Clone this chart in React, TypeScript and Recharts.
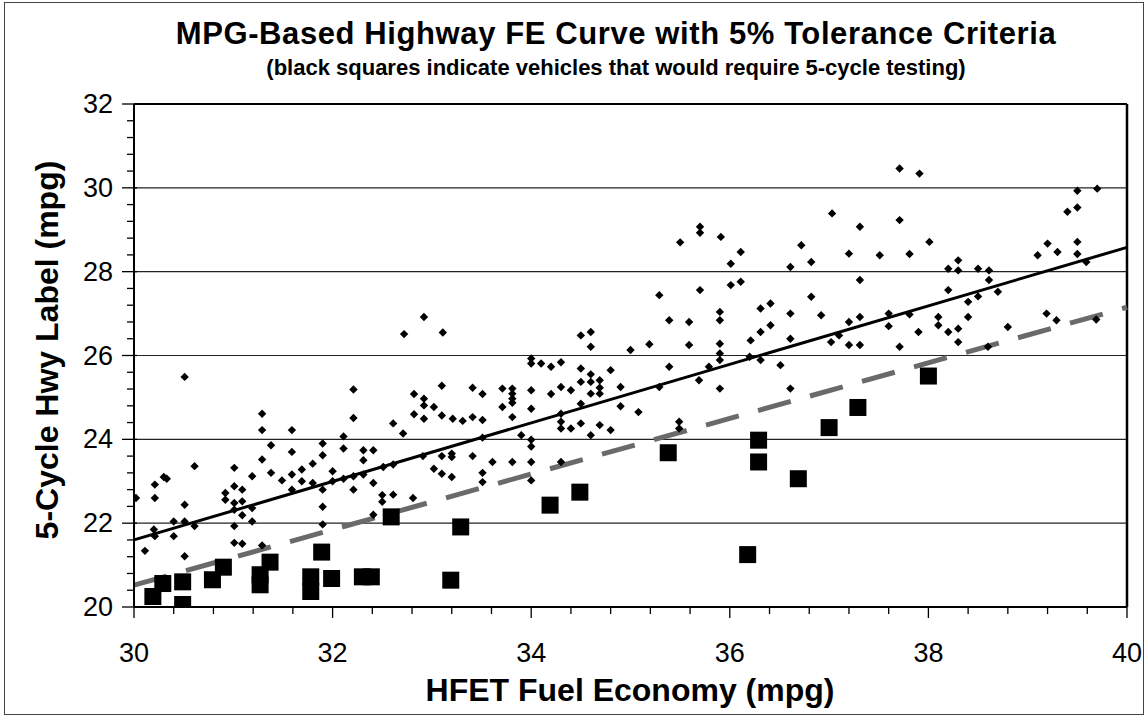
import React from 'react'
import { ReferenceLine, Scatter, ScatterChart, XAxis, YAxis } from 'recharts'

// vehicles within tolerance: [HFET mpg, 5-cycle hwy label mpg]
const passPoints: [number, number][] = [
  [30.02, 22.6], [30.11, 21.34], [30.21, 22.92], [30.21, 22.6], [30.2, 21.85], [30.21, 21.69],
  [30.3, 23.1], [30.33, 23.06], [30.4, 22.04], [30.4, 21.69], [30.51, 25.49], [30.51, 22.44],
  [30.51, 22.04], [30.51, 21.21], [30.61, 21.93], [30.61, 23.36], [30.92, 22.72], [30.92, 22.56],
  [31.01, 23.32], [31.01, 22.88], [31.01, 22.48], [31.01, 22.32], [31.01, 21.93], [31.01, 21.53],
  [31.09, 22.8], [31.09, 22.52], [31.09, 22.19], [31.09, 21.51], [31.19, 23.12], [31.19, 22.36],
  [31.19, 22.04], [31.29, 24.61], [31.29, 24.22], [31.29, 23.52], [31.29, 21.47], [31.38, 23.86],
  [31.38, 23.2], [31.49, 23.02], [31.59, 24.22], [31.59, 23.7], [31.59, 23.16], [31.59, 22.8],
  [31.69, 23.28], [31.69, 23.0], [31.8, 23.42], [31.8, 22.96], [31.9, 23.9], [31.9, 23.62],
  [31.9, 22.8], [31.9, 22.39], [31.9, 21.97], [32.0, 23.24], [32.0, 23.0], [32.11, 24.07],
  [32.11, 23.78], [32.11, 23.06], [32.21, 25.19], [32.21, 24.51], [32.21, 23.12], [32.21, 22.8],
  [32.31, 23.74], [32.31, 23.5], [32.31, 23.16], [32.41, 23.74], [32.41, 22.96], [32.41, 22.2],
  [32.5, 22.67], [32.5, 22.51], [32.51, 23.34],
  [32.61, 23.4], [32.61, 24.38], [32.71, 24.14], [32.72, 26.51], [32.92, 26.92], [33.11, 26.55],
  [32.82, 25.08], [32.82, 24.6], [32.92, 24.97], [32.92, 24.81], [32.92, 24.49], [33.02, 24.77],
  [33.1, 25.28], [33.1, 24.57], [33.21, 24.49], [33.31, 24.44], [33.41, 25.23], [33.41, 24.53],
  [33.51, 25.08], [33.51, 24.46], [32.91, 23.6], [33.02, 23.3], [33.1, 23.6], [33.1, 23.18],
  [33.2, 23.66], [33.2, 23.58], [33.2, 23.1], [33.41, 23.6], [33.51, 23.2], [33.51, 22.98],
  [33.51, 24.04], [33.61, 23.46], [33.71, 25.21], [33.71, 24.77], [33.81, 25.21], [33.81, 25.09],
  [33.81, 24.97], [33.81, 24.87], [33.81, 24.53], [33.81, 23.46], [33.9, 24.1], [34.0, 25.93],
  [34.0, 25.81], [34.1, 25.81], [34.2, 25.73], [34.3, 25.84], [34.0, 25.17], [34.0, 24.73],
  [34.0, 23.99], [34.0, 23.83], [34.0, 23.46], [34.0, 23.02], [34.2, 25.08], [34.3, 25.25],
  [34.3, 24.61], [34.3, 24.42], [34.3, 24.26], [34.3, 23.46], [34.4, 25.17], [34.4, 24.26],
  [34.5, 25.69], [34.5, 25.37], [34.5, 24.85], [34.5, 24.38], [34.5, 26.48], [34.6, 26.56],
  [34.6, 26.21], [34.6, 25.55], [34.6, 25.37], [34.6, 25.09], [34.6, 24.1], [34.69, 25.41],
  [34.69, 25.23], [34.69, 25.09], [34.8, 25.65], [34.8, 24.22], [34.69, 24.34], [34.9, 25.25],
  [34.9, 24.79], [35.0, 26.13], [35.08, 24.65], [32.61, 22.68], [32.81, 22.6],
  [35.19, 26.27], [35.29, 27.44], [35.29, 25.25], [35.39, 26.84], [35.39, 25.73], [35.5, 28.7],
  [35.49, 24.42], [35.49, 24.26], [35.59, 26.8], [35.59, 26.25], [35.69, 25.41], [35.7, 29.07],
  [35.7, 28.93], [35.7, 27.56], [35.79, 25.73], [35.91, 28.83], [35.9, 27.04], [35.9, 26.84],
  [35.9, 26.28], [35.9, 26.05], [35.9, 25.89], [35.9, 25.21], [36.01, 28.19], [36.01, 27.68],
  [36.11, 28.47], [36.11, 27.76], [36.21, 26.36], [36.2, 25.97], [36.31, 27.12], [36.31, 26.56],
  [36.31, 25.89], [36.41, 27.24], [36.41, 26.72], [36.51, 25.77], [36.61, 28.11], [36.61, 27.0],
  [36.61, 26.4], [36.61, 25.21], [36.72, 28.63], [36.82, 28.23], [36.82, 27.4], [36.92, 26.96],
  [37.02, 26.32], [37.1, 26.48], [37.2, 26.8], [37.2, 26.25], [37.2, 28.43], [37.31, 29.07],
  [37.31, 27.8], [37.31, 26.92], [37.31, 26.25], [37.51, 28.39], [37.6, 27.0], [37.6, 26.7],
  [37.03, 29.39],
  [37.71, 30.46], [37.91, 30.34], [37.71, 29.23], [38.01, 28.71], [37.81, 28.42], [38.2, 28.07],
  [38.3, 28.27], [38.3, 28.03], [38.5, 28.07], [38.61, 28.03], [38.61, 27.8], [38.2, 27.56],
  [38.7, 27.52], [38.5, 27.41], [38.4, 27.28], [37.81, 26.98], [37.9, 26.56], [38.1, 26.92],
  [38.1, 26.72], [38.2, 26.56], [38.3, 26.64], [38.4, 26.92], [38.3, 26.32], [37.71, 26.21],
  [38.8, 26.68], [38.6, 26.21], [39.1, 28.39], [39.2, 28.67], [39.3, 28.47], [39.4, 29.43],
  [39.5, 29.53], [39.5, 29.93], [39.7, 29.98], [39.5, 28.71], [39.5, 28.42], [39.59, 28.23],
  [39.19, 27.0], [39.29, 26.84], [39.69, 26.86],
]

// vehicles that would need 5-cycle testing
const failPoints: [number, number][] = [
  [30.19, 20.25], [30.29, 20.56], [30.49, 20.6], [30.49, 20.06], [30.79, 20.65], [30.9, 20.95],
  [31.27, 20.77], [31.27, 20.53], [31.37, 21.07], [31.78, 20.72], [31.78, 20.37], [31.89, 21.31],
  [31.99, 20.68], [32.3, 20.72], [32.39, 20.72], [32.59, 22.15], [33.29, 21.91], [33.19, 20.64],
  [34.19, 22.43], [34.49, 22.74], [35.38, 23.68], [36.29, 23.98], [36.29, 23.46], [36.69, 23.06],
  [37.0, 24.28], [37.29, 24.76], [38.0, 25.51], [36.18, 21.25],
]

// fitted curve endpoints and 5% tolerance
const fitX = [30, 40]
const fitY = [21.6, 28.58]
const tolerance = 0.95

const xTicks = [30, 30.4, 30.8, 31.2, 31.6, 32, 32.4, 32.8, 33.2, 33.6, 34, 34.4, 34.8, 35.2, 35.6, 36, 36.4, 36.8, 37.2, 37.6, 38, 38.4, 38.8, 39.2, 39.6, 40]
const yTicks = [20, 20.4, 20.8, 21.2, 21.6, 22, 22.4, 22.8, 23.2, 23.6, 24, 24.4, 24.8, 25.2, 25.6, 26, 26.4, 26.8, 27.2, 27.6, 28, 28.4, 28.8, 29.2, 29.6, 30, 30.4, 30.8, 31.2, 31.6, 32]
const gridY = [22, 24, 26, 28, 30]

const FONT = '"Liberation Sans", Arial, sans-serif'

const passData = passPoints.map(([x, y]) => ({ x, y }))
const failData = failPoints.map(([x, y]) => ({ x, y }))

const isMajor = (v: number) => Math.abs(v / 2 - Math.round(v / 2)) < 1e-6

function Diamond(props: any) {
  const { cx, cy } = props
  const r = 4.2
  return <path d={`M${cx},${cy - r}L${cx + r},${cy}L${cx},${cy + r}L${cx - r},${cy}Z`} fill="#000" />
}

function Square(props: any) {
  const { cx, cy } = props
  return <rect x={cx - 8.5} y={cy - 8.5} width={17} height={17} fill="#000" />
}

function YTick(props: any) {
  const { x, y, payload } = props
  const major = isMajor(payload.value)
  return (
    <g>
      <line x1={major ? x - 12 : x - 7} x2={major ? x + 3 : x} y1={y} y2={y} stroke="#000" strokeWidth={1.3} />
      {major && (
        <text x={x - 21} y={y} textAnchor="end" dominantBaseline="central" fontSize={27} fontFamily={FONT} fill="#000">
          {payload.value}
        </text>
      )}
    </g>
  )
}

function XTick(props: any) {
  const { x, y, payload } = props
  const major = isMajor(payload.value)
  return (
    <g>
      <line x1={x} x2={x} y1={y} y2={y + (major ? 11 : 7)} stroke="#000" strokeWidth={1.3} />
      {major && (
        <text x={x} y={y + 46} textAnchor="middle" dominantBaseline="central" fontSize={27} fontFamily={FONT} fill="#000">
          {payload.value}
        </text>
      )}
    </g>
  )
}

export default function App() {
  return (
    <div style={{ position: 'absolute', left: 0, top: 0, width: 1146, height: 717, background: '#fff', fontFamily: FONT }}>
      <div style={{ position: 'absolute', left: 4, top: 2, width: 1138, height: 711, border: '1px solid #444' }} />
      <div style={{ position: 'absolute', left: 616, top: 34, transform: 'translate(-50%, -50%)', fontSize: 31, letterSpacing: 0.6, fontWeight: 700, whiteSpace: 'nowrap' }}>
        MPG-Based Highway FE Curve with 5% Tolerance Criteria
      </div>
      <div style={{ position: 'absolute', left: 616, top: 68, transform: 'translate(-50%, -50%)', fontSize: 22, fontWeight: 700, whiteSpace: 'nowrap' }}>
        (black squares indicate vehicles that would require 5-cycle testing)
      </div>
      <div style={{ position: 'absolute', left: 630, top: 690, transform: 'translate(-50%, -50%)', fontSize: 32, fontWeight: 700, whiteSpace: 'nowrap' }}>
        HFET Fuel Economy (mpg)
      </div>
      <div style={{ position: 'absolute', left: 47, top: 350, transform: 'translate(-50%, -50%) rotate(-90deg)', fontSize: 32, fontWeight: 700, whiteSpace: 'nowrap' }}>
        5-Cycle Hwy Label (mpg)
      </div>
      <div style={{ position: 'absolute', left: 0, top: 0 }}>
        <ScatterChart width={1146} height={717} margin={{ top: 104, right: 19, bottom: 0, left: 0 }}>
          <XAxis
            type="number"
            dataKey="x"
            domain={[30, 40]}
            ticks={xTicks}
            interval={0}
            height={110}
            tickSize={0}
            tickMargin={0}
            tickLine={false}
            tick={<XTick />}
            axisLine={{ stroke: '#000', strokeWidth: 2 }}
            allowDataOverflow
          />
          <YAxis
            type="number"
            dataKey="y"
            domain={[20, 32]}
            ticks={yTicks}
            interval={0}
            width={134}
            tickSize={0}
            tickMargin={0}
            tickLine={false}
            tick={<YTick />}
            axisLine={{ stroke: '#000', strokeWidth: 2 }}
            allowDataOverflow
          />
          {gridY.map((v) => (
            <ReferenceLine key={v} y={v} stroke="#222" strokeWidth={1.2} />
          ))}
          <ReferenceLine y={32} stroke="#000" strokeWidth={2} />
          <ReferenceLine x={40} stroke="#000" strokeWidth={2.5} />
          <Scatter data={passData} shape={<Diamond />} isAnimationActive={false} />
          <Scatter data={failData} shape={<Square />} isAnimationActive={false} />
          <ReferenceLine
            segment={[
              { x: fitX[0], y: fitY[0] * tolerance },
              { x: fitX[1], y: fitY[1] * tolerance },
            ]}
            stroke="#6a6a6a"
            strokeWidth={5}
            strokeDasharray="34 20"
          />
          <ReferenceLine
            segment={[
              { x: fitX[0], y: fitY[0] },
              { x: fitX[1], y: fitY[1] },
            ]}
            stroke="#000"
            strokeWidth={3}
          />
        </ScatterChart>
      </div>
    </div>
  )
}
